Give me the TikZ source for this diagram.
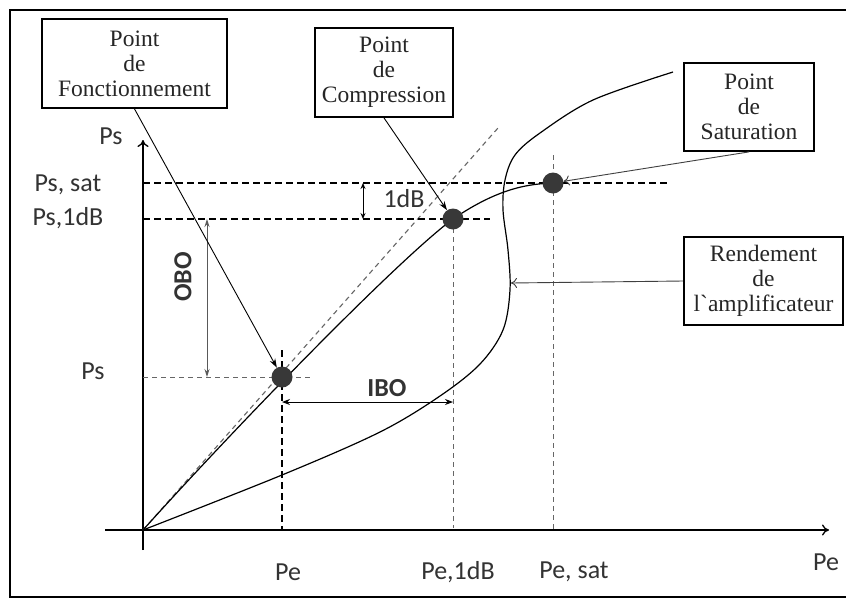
\documentclass[tikz,border=0pt]{standalone}
\usepackage{fontspec}
\setmainfont{Liberation Serif}
\newfontfamily\calfont{Carlito}
\usetikzlibrary{arrows.meta}
\begin{document}
\begin{tikzpicture}[x=1pt,y=-1pt,
  boxnode/.style={draw=black, line width=1.8pt, align=center, font=\fontsize{23.5}{25}\selectfont, inner sep=0pt, text=black!85},
  lab/.style={font=\calfont\fontsize{26}{28}\selectfont, text=black!80, inner sep=0pt},
  dot/.style={circle, fill=black!78, minimum size=21pt, inner sep=0pt},
  ax/.style={line width=1.3pt, -{To[length=7pt,width=11pt]}},
  curve/.style={line width=1.2pt},
  dsh/.style={dash pattern=on 7pt off 4pt, line width=1.4pt},
  dshg/.style={dash pattern=on 5pt off 4pt, line width=1pt, black!60},
  pointer/.style={line width=0.9pt, -{Stealth[length=9pt,width=6pt]}},
  opener/.style={line width=0.9pt, black!75, -{To[length=6pt,width=10pt]}},
]
\useasboundingbox (0,0) rectangle (846,600);
\fill[white] (0,0) rectangle (846,600);
\draw[line width=1.5pt] (846,10) -- (10,10) -- (10,597) -- (846,597);

% coordinates
\coordinate (O) at (143,530);
\coordinate (ybot) at (143,550);
\coordinate (ytop) at (143,140);
\coordinate (xleft) at (105,530);
\coordinate (xright) at (829,530);

% axes
\draw[ax] (ybot) -- (ytop);
\draw[ax] (xleft) -- (xright);

% tangent line
\coordinate (tend) at (498,128);
\draw[dshg, line width=1.1pt] (O) -- (tend);

% horizontal dashed
\coordinate (hs1) at (143,183); \coordinate (hs2) at (670,183);
\coordinate (hd1) at (143,219); \coordinate (hd2) at (490,219);
\coordinate (hp1) at (143,377); \coordinate (hp2) at (310,377);
\draw[dsh] (hs1) -- (hs2);
\draw[dsh] (hd1) -- (hd2);
\draw[dshg] (hp1) -- (hp2);

% vertical dashed
\coordinate (v1a) at (282,350); \coordinate (v1b) at (282,530);
\coordinate (v2a) at (453,219); \coordinate (v2b) at (453,528);
\coordinate (v3a) at (553,155); \coordinate (v3b) at (553,530);
\draw[dsh, line width=1.2pt] (v1a) -- (v1b);
\draw[dshg] (v2a) -- (v2b);
\draw[dshg] (v3a) -- (v3b);

% transfer curve
\draw[curve] (O) .. controls (240,422) and (400,258) .. (453,219)
                 .. controls (500,187) and (530,184) .. (553,183);

% efficiency curve
\draw[curve] plot[smooth, tension=0.55] coordinates {(143,530) (282,475) (380,432) (440,396) (480,364) (503,330) (510,290) (508,250) (503,210) (505,180) (515,155) (540,133) (593,100) (673,72)};
\coordinate (eff) at (511,283);

% dots
\node[dot] (op) at (282,377) {};
\node[dot] (cp) at (453,219) {};
\node[dot] (sp) at (553,183) {};

% dimension arrows
\coordinate (a1) at (363,183); \coordinate (a2) at (363,219);
\draw[line width=1pt, {Stealth[length=6pt,width=5pt]}-{Stealth[length=6pt,width=5pt]}] (a1) -- (a2);
\coordinate (o1) at (207,219); \coordinate (o2) at (207,377);
\draw[line width=0.9pt, black!65, {Stealth[length=8pt,width=5pt]}-{Stealth[length=8pt,width=5pt]}] (o1) -- (o2);
\coordinate (i1) at (282,402); \coordinate (i2) at (453,402);
\draw[line width=1pt, {Stealth[length=8pt,width=6pt]}-{Stealth[length=8pt,width=6pt]}] (i1) -- (i2);

% boxes
\node[boxnode, minimum width=185pt, minimum height=89pt] (b1) at (134.5,63.5) {Point\\de\\Fonctionnement};
\node[boxnode, minimum width=138pt, minimum height=89pt] (b2) at (384,72.5) {Point\\de\\Compression};
\node[boxnode, minimum width=130pt, minimum height=88pt] (b3) at (749,107) {Point\\de\\Saturation};
\node[boxnode, minimum width=159pt, minimum height=88pt] (b4) at (763.5,281) {Rendement\\de\\l\textasciigrave amplificateur};

% pointers
\draw[pointer] (b1.south) -- (op);
\draw[pointer] (b2.south) -- (cp);
\draw[opener] (b3.south) -- (sp);
\draw[opener] (b4.west) -- (eff);

% labels
\node[lab] (lps) at (111,136) {Ps};
\node[lab] (lpe) at (826,562) {Pe};
\node[lab] (lpss) at (68,185) {Ps, sat};
\node[lab] (lps1) at (68,218) {Ps,1dB};
\node[lab] (lpsp) at (93,371) {Ps};
\node[lab] (lpe0) at (288,572) {Pe};
\node[lab] (lpe1) at (458,572) {Pe,1dB};
\node[lab] (lpes) at (574,572) {Pe, sat};
\node[lab] (l1db) at (404,199) {1dB};
\node[lab, font=\calfont\bfseries\fontsize{26}{28}\selectfont, rotate=90] (lobo) at (183,277) {OBO};
\node[lab, font=\calfont\bfseries\fontsize{26}{28}\selectfont] (libo) at (387,388) {IBO};
\end{tikzpicture}
\end{document}
